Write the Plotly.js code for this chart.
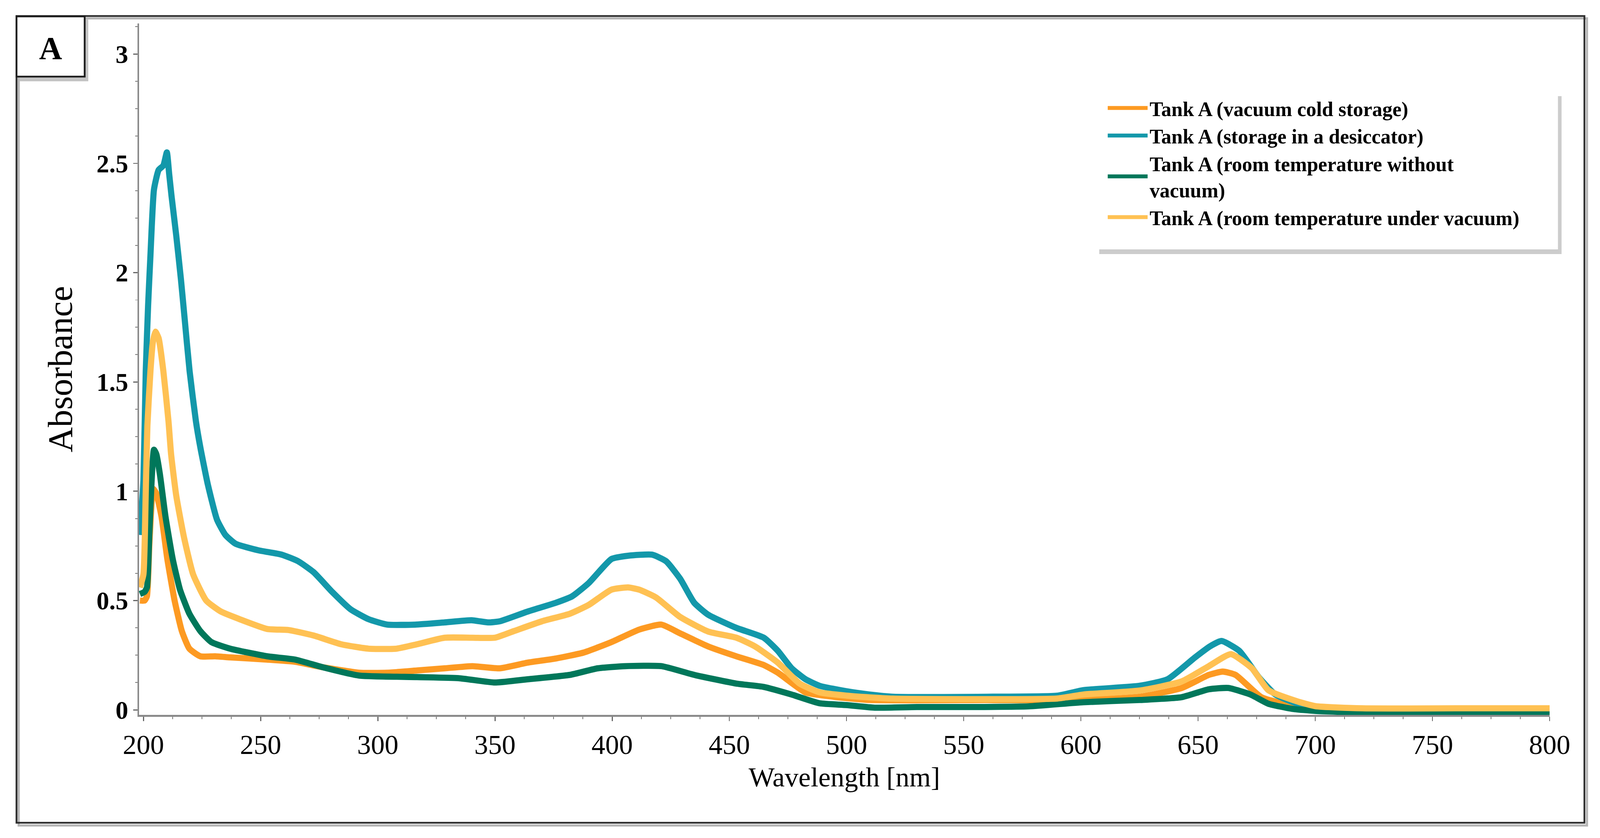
<!DOCTYPE html>
<html>
<head>
<meta charset="utf-8">
<script src="https://cdn.plot.ly/plotly-3.0.1.min.js"></script>
<style>html,body{margin:0;padding:0;background:#fff;overflow:hidden;}#chart{position:absolute;left:0;top:0;}</style>
</head>
<body>
<div id="chart"></div>
<script>
// Series names
var seriesNames = [
  "Tank A (vacuum cold storage)",
  "Tank A (storage in a desiccator)",
  "Tank A (room temperature without<br>vacuum)",
  "Tank A (room temperature under vacuum)"
];

// Tank A (vacuum cold storage)
var coldX = [198.5,200.5,201.5,202.5,203.5,204.2,205.5,207.7,210.2,213.3,216.4,219.6,224.3,230.6,237,252.8,264.7,276.5,292,304,316.7,328.5,340.4,352,364,376,387.8,399.7,411.5,421,429,441,453,464.7,470.7,482.5,494.4,510,560,600,625,643,654.6,660.5,666,677,690,700,720,760,800];
var coldY = [0.50,0.50,0.52,0.75,0.95,1.01,0.99,0.885,0.69,0.50,0.36,0.28,0.245,0.245,0.24,0.23,0.22,0.195,0.17,0.17,0.18,0.19,0.20,0.19,0.216,0.235,0.262,0.31,0.367,0.39,0.35,0.29,0.245,0.205,0.17,0.08,0.06,0.045,0.045,0.045,0.06,0.10,0.16,0.175,0.16,0.058,0.02,0.01,0.0,0.0,0.0];

// Tank A (storage in a desiccator)
var desX = [198.5,200,201,202,203,204.5,206.5,208.5,210,211,212,214,216,217.5,219.7,222.4,224.3,227.5,231.4,235,239.3,249,259,266,272.6,280.5,288.4,296,304,316,328.5,340,347,352,364,376,383,390,399.7,406.8,417,423,429,435,441,453,464.7,470.7,476.6,482.5,488.5,500,510,520,560,590,601,625,637,648.7,655,660,667.6,676,683,692,700,720,760,800];
var desY = [0.80,1.05,1.55,1.85,2.08,2.38,2.47,2.49,2.55,2.45,2.35,2.17,1.97,1.80,1.55,1.32,1.20,1.03,0.87,0.80,0.76,0.73,0.71,0.68,0.63,0.54,0.46,0.415,0.39,0.39,0.40,0.41,0.40,0.405,0.45,0.49,0.52,0.58,0.69,0.705,0.71,0.68,0.60,0.49,0.435,0.375,0.33,0.27,0.19,0.14,0.11,0.085,0.07,0.06,0.06,0.065,0.09,0.11,0.14,0.24,0.29,0.315,0.27,0.148,0.07,0.03,0.015,0.0,0.0,0.0];

// Tank A (room temperature without vacuum)
var noVacX = [198.5,200.5,201.5,202.5,203.5,204.5,205.5,207,209.4,212.5,215.6,219.6,224.3,229,237,252.8,264.7,276.5,292,316.7,334.5,350,364,382,393.8,405.6,421,435,453,464.7,476.6,488.5,500,512,530,554,577.7,601,625,643,654.6,662.9,672.4,680,690,700,720,760,800];
var noVacY = [0.53,0.54,0.56,0.80,1.05,1.19,1.17,1.08,0.885,0.69,0.55,0.44,0.36,0.31,0.28,0.245,0.23,0.195,0.157,0.15,0.145,0.125,0.14,0.16,0.19,0.20,0.20,0.16,0.12,0.105,0.07,0.03,0.022,0.01,0.013,0.013,0.016,0.035,0.045,0.058,0.094,0.10,0.07,0.028,0.005,-0.005,-0.012,-0.012,-0.012];

// Tank A (room temperature under vacuum)
var vacX = [198.5,200,201,201.7,203,204,205.1,206.5,208.5,210.7,211.8,214,217.3,221.2,226.8,233,241,252.8,262,272.6,284.4,296,308,316.7,328.5,340.4,350,358,370,382,390,399.7,406.8,411.5,418.6,429,441,453,461,470.7,480,488.5,500,518,590,601,625,643,654.6,664,673,680,692,700,720,760,800];
var vacY = [0.56,0.62,1.0,1.3,1.55,1.68,1.73,1.70,1.55,1.32,1.17,0.98,0.79,0.62,0.50,0.45,0.415,0.37,0.365,0.34,0.30,0.28,0.28,0.30,0.33,0.33,0.33,0.36,0.405,0.44,0.48,0.55,0.56,0.55,0.515,0.425,0.358,0.33,0.29,0.216,0.12,0.08,0.065,0.052,0.052,0.07,0.088,0.13,0.2,0.255,0.19,0.09,0.04,0.017,0.007,0.007,0.007];

var xTickVals = [200,250,300,350,400,450,500,550,600,650,700,750,800];
var yTickVals = [0, 0.5, 1, 1.5, 2, 2.5, 3];
var yTickText = ["0", "0.5", "1", "1.5", "2", "2.5", "3"];

var seriesColors = ["#FD9A22", "#1398AA", "#00775A", "#FFC153"];

// fill the real viewport (design size 4413 x 2144)
var vw = window.innerWidth || 4413, vh = window.innerHeight || 2144;
var sx = vw / 4413, sy = vh / 2144;
var s = Math.min(sx, sy);
function S(v){ return v * s; }

var xs = [coldX, desX, noVacX, vacX];
var ys = [coldY, desY, noVacY, vacY];

var traces = xs.map(function(x, i){
  return {
    type: "scatter", mode: "lines",
    x: x, y: ys[i], name: seriesNames[i],
    line: {color: seriesColors[i], width: S(17), shape: "spline", smoothing: 0.5}
  };
});

// design-pixel helpers for paper-referenced decorations
var W = 4413, H = 2144, L = 384, R = 139, T = 60, B = 315;
var pw = W - L - R, ph = H - T - B;
function px(x){ return (x - L) / pw; }
function py(y){ return (H - B - y) / ph; }

var serif = "Liberation Serif, Times New Roman, serif";

var shapes = [
  {type:"rect", xref:"paper", yref:"paper", x0:px(52), x1:px(4377), y0:py(2112), y1:py(47), line:{color:"#b5b5b5", width:S(6)}, fillcolor:"rgba(0,0,0,0)", layer:"below"},
  {type:"rect", xref:"paper", yref:"paper", x0:px(46), x1:px(4370), y0:py(2105), y1:py(41), line:{color:"#2e2e2e", width:S(5)}, fillcolor:"rgba(0,0,0,0)", layer:"below"},
  {type:"rect", xref:"paper", yref:"paper", x0:px(54), x1:px(244), y0:py(208), y1:py(50), line:{width:0}, fillcolor:"#c4c4c4", layer:"below"},
  {type:"rect", xref:"paper", yref:"paper", x0:px(46), x1:px(234), y0:py(196), y1:py(42), line:{color:"#1e1e1e", width:S(5)}, fillcolor:"#ffffff", layer:"below"},
  {type:"rect", xref:"paper", yref:"paper", x0:px(3032), x1:px(4307), y0:py(650), y1:py(246), line:{width:0}, fillcolor:"#cccccc", layer:"above"},
  {type:"rect", xref:"paper", yref:"paper", x0:px(3024), x1:px(4297), y0:py(638), y1:py(232), line:{width:0}, fillcolor:"#ffffff", layer:"above"}
];

var layout = {
  width: vw, height: vh,
  margin: {l: L * sx, r: R * sx, t: T * sy, b: B * sy, pad: 0},
  paper_bgcolor: "#ffffff", plot_bgcolor: "#ffffff",
  showlegend: true,
  legend: {
    x: px(3050), y: py(236), xanchor: "left", yanchor: "top",
    bgcolor: "rgba(0,0,0,0)", borderwidth: 0,
    itemwidth: Math.max(30, S(110)), valign: "middle",
    font: {family: serif, size: S(56), color: "#000", weight: "bold"}
  },
  xaxis: {
    range: [198.14, 800],
    tickvals: xTickVals,
    ticks: "outside", ticklen: S(12), tickwidth: S(3), tickcolor: "#666",
    minor: {dtick: 12.5, ticks: "outside", ticklen: S(7), tickwidth: S(2), tickcolor: "#777"},
    showline: true, linecolor: "#8a8a8a", linewidth: S(5),
    showgrid: false, zeroline: false,
    tickfont: {family: serif, size: S(76), color: "#000"},
    ticklabelstandoff: S(14),
    title: {text: "Wavelength [nm]", font: {family: serif, size: S(76), color: "#000"}, standoff: S(22)}
  },
  yaxis: {
    range: [-0.023, 3.14],
    tickvals: yTickVals,
    ticktext: yTickText,
    ticks: "outside", ticklen: S(12), tickwidth: S(3), tickcolor: "#666",
    minor: {dtick: 0.125, ticks: "outside", ticklen: S(7), tickwidth: S(2), tickcolor: "#777"},
    showline: true, linecolor: "#8a8a8a", linewidth: S(4),
    showgrid: false, zeroline: false,
    tickfont: {family: serif, size: S(70), color: "#000", weight: "bold"},
    ticklabelstandoff: S(40),
    title: {text: "Absorbance", font: {family: serif, size: S(96), color: "#000"}, standoff: S(36)}
  },
  shapes: shapes,
  annotations: [
    {xref:"paper", yref:"paper", x: px(140), y: py(124), xanchor:"center", yanchor:"middle", showarrow:false,
     text:"A", font:{family: serif, size: S(88), color:"#000", weight:"bold"}}
  ]
};

Plotly.newPlot("chart", traces, layout, {displayModeBar: false, staticPlot: true});
</script>
</body>
</html>
